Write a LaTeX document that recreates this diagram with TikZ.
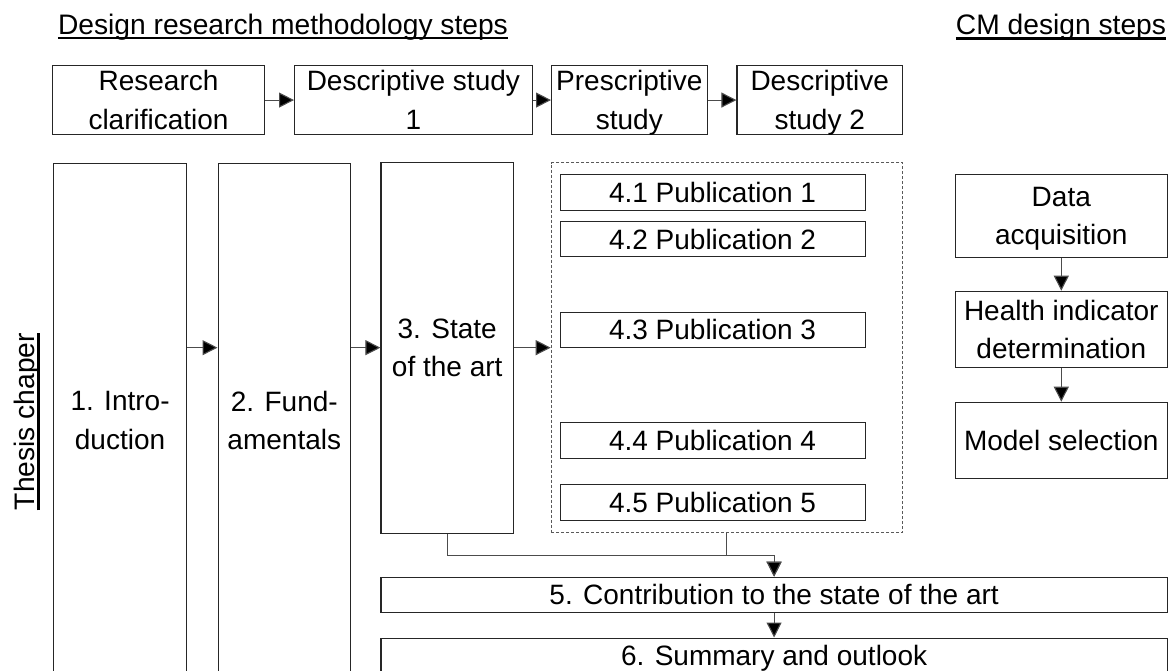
\documentclass[tikz,border=0pt]{standalone}
\usepackage{fontspec}
\setmainfont{Liberation Sans}
\usetikzlibrary{arrows.meta,calc}
\tikzset{
  box/.style={draw=black!85, line width=1.1pt, fill=white, inner sep=0pt, align=center,
              anchor=north west, font=\fontsize{28}{38.5}\selectfont},
  grpbox/.style={draw=black!65, line width=1pt, dash pattern=on 3pt off 2pt,
              inner sep=0pt, anchor=north west},
  conn/.style={draw=black!70, line width=1.1pt},
  arr/.style={conn, -{Triangle[length=15pt,width=15pt,fill=black]}},
  ttl/.style={inner sep=0pt, anchor=base, font=\fontsize{28.2}{30}\selectfont},
  uline/.style={line width=2.4pt, black}
}
\begin{document}
\begin{tikzpicture}[x=1pt,y=-1pt]
\path[use as bounding box, clip] (0,0) rectangle (1168,670);
\fill[white] (0,0) rectangle (1168,670);

% titles
\node[ttl] (t1) at (283,34) {Design research methodology steps};
\draw[uline] ([yshift=-4pt]t1.base west) -- ([yshift=-4pt]t1.base east);
\node[ttl] (t2) at (1061,34.5) {CM design steps};
\draw[uline] ([yshift=-4pt]t2.base west) -- ([yshift=-4pt]t2.base east);
\node[ttl, rotate=90] (t3) at (34.5,421.5) {Thesis chaper};
\draw[uline] ([xshift=4pt]t3.base west) -- ([xshift=4pt]t3.base east);

% methodology steps
\node[box, minimum width=212, minimum height=69] (rc) at (52,65) {Research\\clarification};
\node[box, minimum width=237.6, minimum height=69] (ds1) at (294,65) {Descriptive study\\1};
\node[box, minimum width=155.6, minimum height=69] (ps) at (551,65) {Prescriptive\\\smash{study}};
\node[box, minimum width=165.6, minimum height=69] (ds2) at (736.4,65) {Descriptive\\\smash{study 2}};
\draw[arr] (rc.east) -- (ds1.west);
\draw[arr] (ds1.east) -- (ps.west);
\draw[arr] (ps.east) -- (ds2.west);

% chapters
\node[box, minimum width=133, minimum height=515] (b1) at (53,162.5) {1. Intro-\\duction};
\node[box, minimum width=132.5, minimum height=515] (b2) at (217.5,162.5) {2. Fund-\\amentals};
\node[box, minimum width=132.5, minimum height=371.2] (b3) at (380.4,161.5) {3. State\\of the art};
\node[grpbox, minimum width=351.3, minimum height=370.3] (grp) at (550.7,162) {};
\node[box, minimum width=305, minimum height=35.7] (p1) at (559.5,174.3) {4.1 Publication 1};
\node[box, minimum width=305, minimum height=35.6] (p2) at (559.5,220.7) {4.2 Publication 2};
\node[box, minimum width=305, minimum height=35.3] (p3) at (559.5,311.7) {4.3 Publication 3};
\node[box, minimum width=305, minimum height=35.4] (p4) at (559.5,422.3) {4.4 Publication 4};
\node[box, minimum width=305, minimum height=36] (p5) at (559.5,484) {4.5 Publication 5};

\draw[arr] (b1.east |- b3.west) -- (b2.west |- b3.west);
\draw[arr] (b2.east |- b3.west) -- (b3.west);
\draw[arr] (b3.east) -- (grp.west);

% CM design steps
\node[box, minimum width=211.5, minimum height=82.4] (da) at (955,174.3) {Data\\\smash{acquisition}};
\node[box, minimum width=211.5, minimum height=76.6] (hi) at (955,290.7) {Health indicator\\determination};
\node[box, minimum width=211.5, minimum height=76.6] (ms) at (955,401.7) {Model selection};
\draw[arr] (da.south) -- (hi.north);
\draw[arr] (hi.south) -- (ms.north);

% contribution and summary
\node[box, minimum width=786.3, minimum height=35] (c5) at (380.4,576.7) {5. Contribution to the state of the art};
\node[box, minimum width=786.3, minimum height=35] (c6) at (380.4,637.5) {\smash{6. Summary and outlook}\vphantom{6}};
\coordinate (mid) at ($(b3.south)!0.5!(c5.north)$);
\draw[arr] (b3.south) -- (b3.south |- mid) -| (c5.north);
\draw[arr] (grp.south) -- (grp.south |- mid) -| (c5.north);
\draw[arr] (c5.south) -- (c6.north);
\end{tikzpicture}
\end{document}
